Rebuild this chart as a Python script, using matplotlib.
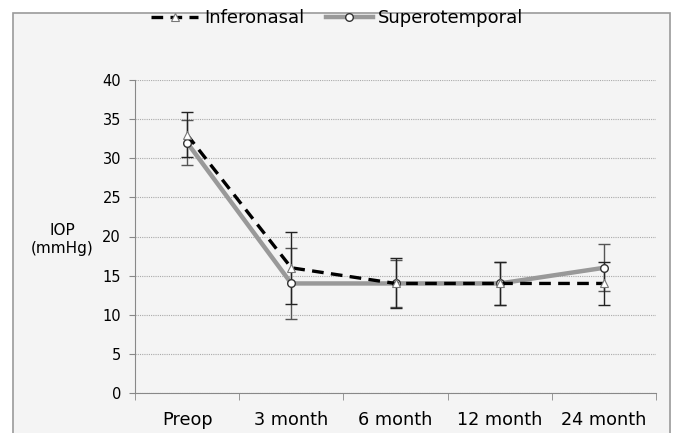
import numpy as np
import matplotlib
matplotlib.use("Agg")
import matplotlib.pyplot as plt
from matplotlib.patches import Rectangle

#%% data

timepoints = ["Preop", "3 month", "6 month", "12 month", "24 month"]
inferonasal = [33, 16, 14, 14, 14]
inferonasal_sd = [2.9, 4.6, 3.2, 2.7, 2.8]
superotemporal = [32, 14, 14, 14, 16]
superotemporal_sd = [2.9, 4.5, 3.0, 2.7, 3.0]

#%% plot

fig = plt.figure(figsize=(6.75, 4.33), dpi=100)
fig.patch.set_facecolor("white")
fig.patches.append(Rectangle((13/675, -0.05), 657/675, 1 - 13/433 + 0.05,
                             transform=fig.transFigure, facecolor="#f4f4f4",
                             edgecolor="#9a9a9a", linewidth=1.2, zorder=-10))

ax = fig.add_axes([135/675, 1 - 393/433, 521/675, 313/433])
ax.set_facecolor("none")

x = np.arange(len(timepoints))

ax.errorbar(x, superotemporal, yerr=superotemporal_sd, fmt="none",
            ecolor="#555555", elinewidth=1.0, capsize=4, capthick=1.0, zorder=3)
ax.errorbar(x, inferonasal, yerr=inferonasal_sd, fmt="none",
            ecolor="#222222", elinewidth=1.0, capsize=4, capthick=1.0, zorder=3)

ax.plot(x, superotemporal, color="#999999", linewidth=3.2, marker="o",
        markersize=5.5, markerfacecolor="white", markeredgecolor="#333333",
        markeredgewidth=1.0, label="Superotemporal", zorder=4)
ax.plot(x, inferonasal, color="black", linewidth=2.4, linestyle=(0, (3.5, 2.2)),
        marker="^", markersize=6, markerfacecolor="white",
        markeredgecolor="#777777", markeredgewidth=0.8,
        label="Inferonasal", zorder=5)

ax.set_xlim(-0.5, len(timepoints) - 0.5)
ax.set_ylim(0, 40)
ax.set_yticks(np.arange(0, 41, 5))
ax.set_xticks(x)
ax.set_xticklabels(timepoints, fontsize=12.7)
ax.set_xticks(np.arange(-0.5, len(timepoints)), minor=True)
ax.tick_params(axis="x", which="major", length=0, pad=13)
ax.tick_params(axis="x", which="minor", length=5, color="#888888", direction="out")
ax.tick_params(axis="y", length=4, color="#888888", labelsize=10.5, pad=6)

ax.grid(axis="y", color="#aaaaaa", linestyle=(0, (1, 1)), linewidth=0.8)
for side in ["top", "right"]:
    ax.spines[side].set_visible(False)
ax.spines["left"].set_color("#888888")
ax.spines["bottom"].set_color("#888888")

ax.set_ylabel("IOP\n(mmHg)", rotation=0, fontsize=11, ha="center", va="center",
              multialignment="center")
ax.yaxis.set_label_coords(-0.14, 0.49)

handles, labels = ax.get_legend_handles_labels()
fig.legend(handles[::-1], labels[::-1], loc="center", bbox_to_anchor=(0.5, 1 - 18/433),
           ncol=2, frameon=False, fontsize=13, handlelength=2.6,
           handletextpad=0.3, columnspacing=1.2)

plt.savefig("out.png", dpi=100)
